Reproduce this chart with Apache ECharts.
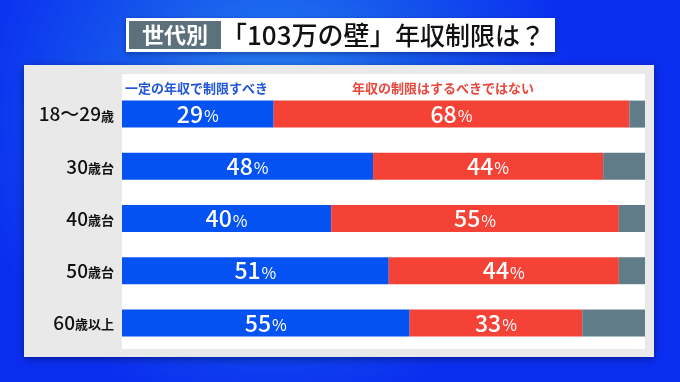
<!DOCTYPE html>
<html><head><meta charset="utf-8">
<script src="https://cdn.jsdelivr.net/npm/echarts@6/dist/echarts.min.js"></script>
<style>html,body{margin:0;padding:0;}#c{width:680px;height:382px;}</style>
</head><body><div id="c"></div>
<script>
const categories = ['18～29歳', '30歳台', '40歳台', '50歳台', '60歳以上'];
const shouldLimit = [29, 48, 40, 51, 55];
const shouldNotLimit = [68, 44, 55, 44, 33];
const other = [3, 8, 5, 5, 12];
const seriesNames = ['一定の年収で制限すべき', '年収の制限はするべきではない', 'その他'];
const titleTag = '世代別';
const titleQuote = '「103万の壁」';
const titleRest = '年収制限は？';

const FONT = '"Noto Sans CJK JP", "Noto Sans", sans-serif';
const chart = echarts.init(document.getElementById('c'));

function catFmt(v) {
  const m = v.match(/^([0-9～]+)(.*)$/);
  return m ? '{n|' + m[1] + '}{k|' + m[2] + '}' : v;
}
const pctLabel = {
  show: true, position: 'inside', color: '#fff',
  formatter: p => '{v|' + p.value + '}{p|%}',
  rich: {
    v: { fontSize: 23, fontFamily: FONT, color: '#fff', fontWeight: 500 },
    p: { fontSize: 16, fontFamily: FONT, color: '#fff', padding: [4, 0, 0, 1] }
  }
};

chart.setOption({
  animation: false,
  graphic: [
    { type: 'rect', z: -10, shape: { x: 0, y: 0, width: 680, height: 382 },
      style: { fill: new echarts.graphic.RadialGradient(0.4, 0.3, 0.8, [
        { offset: 0, color: '#2c8af6' }, { offset: 0.5, color: '#1658ec' }, { offset: 1, color: '#0a2ef0' }]) } },
    { type: 'rect', z: -5, shape: { x: 126, y: 18, width: 429, height: 34 },
      style: { fill: '#ffffff', shadowBlur: 6, shadowColor: 'rgba(0,0,40,0.35)', shadowOffsetY: 2 } },
    { type: 'rect', z: -4, shape: { x: 129, y: 21, width: 92, height: 28 }, style: { fill: '#5d717c' } },
    { type: 'text', z: 5, style: { text: titleTag, x: 175, y: 35, align: 'center', verticalAlign: 'middle',
      fill: '#fff', font: 'bold 22px ' + FONT } },
    { type: 'text', z: 5, style: { text: titleQuote, x: 221, y: 35, align: 'left', verticalAlign: 'middle',
      fill: '#111', font: '500 26px ' + FONT } },
    { type: 'text', z: 5, style: { text: titleRest, x: 395, y: 35, align: 'left', verticalAlign: 'middle',
      fill: '#111', font: '500 25px ' + FONT } },
    { type: 'rect', z: -5, shape: { x: 24, y: 65, width: 630, height: 292 },
      style: { fill: '#e9e9e9', shadowBlur: 8, shadowColor: 'rgba(0,0,40,0.45)', shadowOffsetY: 2 } },
    { type: 'rect', z: -4, shape: { x: 122, y: 74, width: 523, height: 275 }, style: { fill: '#ffffff' } },
    { type: 'text', z: 5, style: { text: seriesNames[0], x: 125, y: 88, verticalAlign: 'middle',
      fill: '#2356d8', font: 'bold 13px ' + FONT } },
    { type: 'text', z: 5, style: { text: seriesNames[1], x: 352, y: 88, verticalAlign: 'middle',
      fill: '#e8473c', font: 'bold 13px ' + FONT } }
  ],
  grid: { left: 122, right: 35, top: 88, bottom: 33 },
  xAxis: { type: 'value', min: 0, max: 100, show: false },
  yAxis: {
    type: 'category', data: categories, inverse: true,
    axisLine: { show: false }, axisTick: { show: false }, splitLine: { show: false },
    axisLabel: {
      margin: 8, formatter: catFmt,
      rich: {
        n: { fontSize: 19, fontFamily: FONT, color: '#111', fontWeight: 500 },
        k: { fontSize: 13, fontFamily: FONT, color: '#111', fontWeight: 'bold', padding: [3, 0, 0, 0] }
      }
    }
  },
  series: [
    { name: seriesNames[0], type: 'bar', stack: 'a', data: shouldLimit, barWidth: 27,
      itemStyle: { color: '#0552f2' }, label: pctLabel },
    { name: seriesNames[1], type: 'bar', stack: 'a', data: shouldNotLimit, barWidth: 27,
      itemStyle: { color: '#f44336' }, label: pctLabel },
    { name: seriesNames[2], type: 'bar', stack: 'a', data: other, barWidth: 27,
      itemStyle: { color: '#607c88' }, label: { show: false } }
  ]
});
</script></body></html>
